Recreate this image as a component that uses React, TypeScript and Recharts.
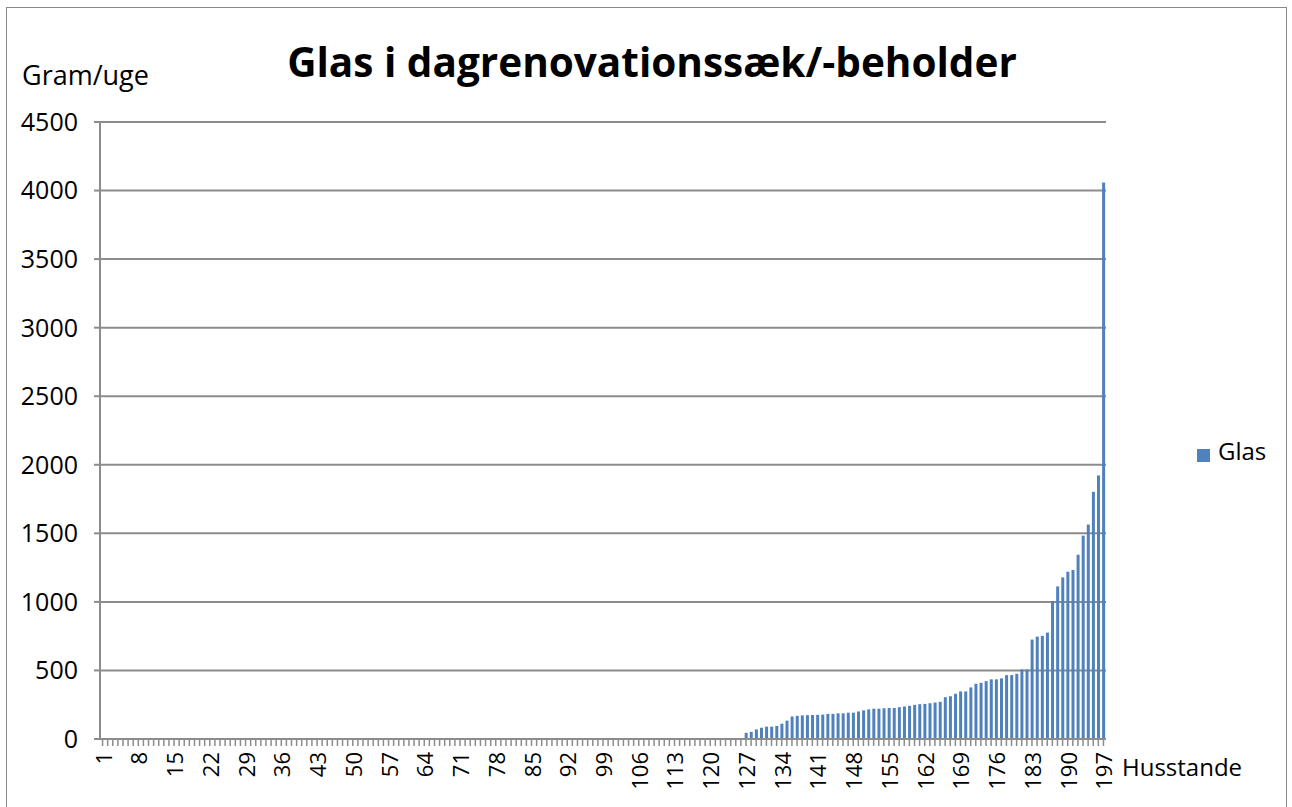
import { BarChart, Bar, XAxis, YAxis, CartesianGrid, Legend } from 'recharts'

// household 1..197, sorted by amount of glass found in the residual waste
const households = Array.from({ length: 197 }, (_, i) => String(i + 1))

// households 1-126: no glass
const glassNone = [
  0, 0, 0, 0, 0, 0, 0, 0, 0, 0, 0, 0, 0, 0, 0, 0, 0, 0, 0, 0, 0,
  0, 0, 0, 0, 0, 0, 0, 0, 0, 0, 0, 0, 0, 0, 0, 0, 0, 0, 0, 0, 0,
  0, 0, 0, 0, 0, 0, 0, 0, 0, 0, 0, 0, 0, 0, 0, 0, 0, 0, 0, 0, 0,
  0, 0, 0, 0, 0, 0, 0, 0, 0, 0, 0, 0, 0, 0, 0, 0, 0, 0, 0, 0, 0,
  0, 0, 0, 0, 0, 0, 0, 0, 0, 0, 0, 0, 0, 0, 0, 0, 0, 0, 0, 0, 0,
  0, 0, 0, 0, 0, 0, 0, 0, 0, 0, 0, 0, 0, 0, 0, 0, 0, 0, 0, 0, 0,
]
// households 127-156
const glassLow = [
  45, 52, 70, 82, 90, 90, 95, 112, 134, 164, 169, 172, 174, 175, 176,
  178, 183, 183, 187, 187, 192, 192, 201, 209, 216, 221, 221, 224, 226, 226,
]
// households 157-191
const glassMid = [
  232, 237, 242, 249, 254, 256, 261, 266, 271, 305, 312, 330, 347, 347, 376,
  403, 410, 422, 435, 435, 442, 466, 466, 476, 508, 508, 725, 747, 752, 776,
  1006, 1113, 1179, 1220, 1233,
]
// households 192-197
const glassHigh = [1344, 1483, 1564, 1803, 1922, 4059]

const glas = [...glassNone, ...glassLow, ...glassMid, ...glassHigh]
const yTicks = [0, 500, 1000, 1500, 2000, 2500, 3000, 3500, 4000, 4500]

const data = households.map((h, i) => ({ husstand: h, Glas: glas[i] }))

const FONT = '"Open Sans", sans-serif'
const GRID = '#8c8c8c'

function HouseholdTick({ x, y, payload, index }: any) {
  return (
    <g>
      <line x1={x} y1={y - 7} x2={x} y2={y} stroke={GRID} strokeWidth={1.5} />
      {index % 7 === 0 && (
        <text
          x={0}
          y={0}
          transform={`translate(${x},${y + 6}) rotate(-90)`}
          textAnchor="end"
          dominantBaseline="central"
          fontSize={22}
          fontFamily={FONT}
          fill="#000"
        >
          {payload.value}
        </text>
      )}
    </g>
  )
}

export default function App() {
  return (
    <div style={{ position: 'absolute', left: 0, top: 0, width: 1292, height: 807, overflow: 'hidden', background: '#fff', fontFamily: FONT }}>
      <div style={{ position: 'absolute', left: 6, top: 7, width: 1279, height: 820, border: '1px solid #8a8a8a' }} />
      <div style={{ position: 'absolute', left: 0, width: 1304, top: 34, textAlign: 'center', fontSize: 40.5, fontWeight: 700, lineHeight: '56px' }}>
        Glas i dagrenovationssæk/-beholder
      </div>
      <div style={{ position: 'absolute', left: 22, top: 57, fontSize: 27, lineHeight: '36px' }}>Gram/uge</div>
      <BarChart
        width={1292}
        height={807}
        data={data}
        margin={{ top: 122, right: 186, bottom: 0, left: 30 }}
        barCategoryGap="24%"
      >
        <CartesianGrid vertical={false} stroke={GRID} strokeWidth={2} />
        <XAxis
          dataKey="husstand"
          interval={0}
          height={68}
          tickSize={7}
          tickMargin={0}
          tickLine={false}
          axisLine={{ stroke: GRID, strokeWidth: 2 }}
          tick={<HouseholdTick />}
          label={{ value: 'Husstande', position: 'right', offset: 16, dy: -6, fontSize: 24, fontFamily: FONT, fill: '#000' }}
        />
        <YAxis
          domain={[0, 4500]}
          ticks={yTicks}
          width={70}
          tickSize={6}
          tickMargin={16}
          axisLine={{ stroke: GRID, strokeWidth: 2 }}
          tickLine={{ stroke: GRID, strokeWidth: 2 }}
          tick={{ fontSize: 25, fontFamily: FONT, fill: '#000' }}
        />
        <Legend
          layout="vertical"
          align="center"
          verticalAlign="middle"
          iconType="square"
          iconSize={13}
          formatter={(value) => <span style={{ color: '#000', fontSize: 24, fontFamily: FONT, marginLeft: 4 }}>{value}</span>}
          wrapperStyle={{ left: 1197, top: 434, right: 'auto', bottom: 'auto', width: 'auto' }}
        />
        <Bar dataKey="Glas" name="Glas" fill="#4F81BD" isAnimationActive={false} />
      </BarChart>
    </div>
  )
}
